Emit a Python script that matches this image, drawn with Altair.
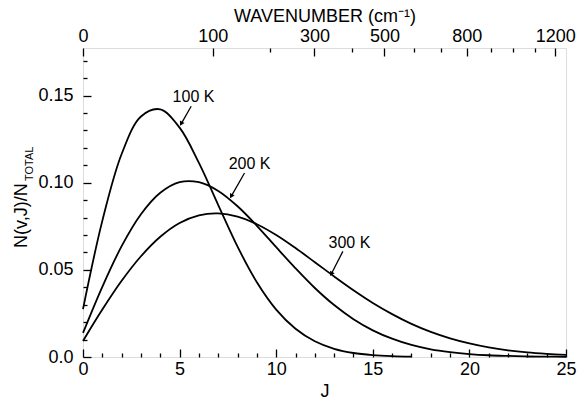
import json
import math
import altair as alt
import pandas as pd

# ---- data ----
J_VALUES = list(range(0, 26))
POP_100K = [0.0275, 0.0781, 0.1165, 0.1380, 0.1421, 0.1316, 0.1114, 0.0872, 0.0633,
            0.0429, 0.0272, 0.0162, 0.0090, 0.0047, 0.0023, 0.0011, 0.0005, 0.0002]
POP_200K = [0.0138, 0.0403, 0.0636, 0.0819, 0.0942, 0.1003, 0.1003, 0.0953, 0.0865,
            0.0753, 0.0630, 0.0509, 0.0396, 0.0298, 0.0217, 0.0153, 0.0105, 0.0069,
            0.0044, 0.0028, 0.0017, 0.0010, 0.0006, 0.0003, 0.0002, 0.0001]
POP_300K = [0.0092, 0.0272, 0.0437, 0.0578, 0.0690, 0.0769, 0.0813, 0.0824, 0.0806,
            0.0762, 0.0700, 0.0625, 0.0544, 0.0462, 0.0383, 0.0310, 0.0246, 0.0190,
            0.0144, 0.0107, 0.0078, 0.0055, 0.0038, 0.0026, 0.0018, 0.0012]

SERIES = ["100 K", "200 K", "300 K"]
LABEL_J = [5.72, 8.62, 13.79]
LABEL_V = [0.1493, 0.1110, 0.0654]
ARROW_J1 = [5.60, 8.36, 13.45]
ARROW_V1 = [0.1439, 0.1056, 0.0606]
ARROW_J2 = [5.08, 7.67, 12.85]
ARROW_V2 = [0.1338, 0.0922, 0.0476]

WAVENUMBER_TICKS = [0, 100, 200, 300, 400, 500, 600, 700, 800, 900, 1000, 1100, 1200]
WAVENUMBER_LABELS = [0, 100, 300, 500, 800, 1200]
B_ROT = 1.93  # cm^-1, rotational constant used for the top scale

X_TICKS = list(range(0, 26))
Y_TICKS = [round(i * 0.01, 2) for i in range(0, 18)]

# ---- tables ----
rows = []
for name, vals in zip(SERIES, [POP_100K, POP_200K, POP_300K]):
    for j, v in zip(J_VALUES, vals):
        rows.append({"J": j, "v": v, "T": name})
curves = pd.DataFrame(rows)

labels = pd.DataFrame({"T": SERIES, "J": LABEL_J, "v": LABEL_V})
arrows = pd.DataFrame({"T": SERIES, "J": ARROW_J1, "v": ARROW_V1,
                       "J2": ARROW_J2, "v2": ARROW_V2})

top_tick_J = [(-1 + math.sqrt(1 + 4 * w / B_ROT)) / 2 for w in WAVENUMBER_TICKS]

FONT = "Liberation Sans"
xs = alt.Scale(domain=[0, 25], nice=False, zero=False)
ys = alt.Scale(domain=[0, 0.1773], nice=False)

wn_expr = f"round({B_ROT}*datum.value*(datum.value+1))"
is_wn_label = f"indexof({json.dumps(WAVENUMBER_LABELS)}, {wn_expr}) >= 0"

bottom_axis = alt.Axis(
    orient="bottom", values=X_TICKS, domain=False, grid=False,
    tickColor="black", tickWidth=1.3, labelFlush=False,
    tickSize={"condition": {"test": "datum.value % 5 === 0", "value": -8}, "value": -4},
    labelExpr="datum.value % 5 === 0 ? datum.label : ''",
    labelPadding=11, labelFontSize=18, labelColor="black", labelFont=FONT,
    title="J", titleFontSize=18, titleFontWeight="normal", titleColor="black",
    titleFont=FONT, titlePadding=4,
)
left_axis = alt.Axis(
    orient="left", values=Y_TICKS, domain=False, grid=False,
    tickColor="black", tickWidth=1.3,
    tickSize={"condition": {"test": "round(datum.value*100) % 5 === 0", "value": -8}, "value": -4},
    labelExpr="round(datum.value*100) % 5 === 0 ? (datum.value === 0 ? '0.0' : format(datum.value, '.2f')) : ''",
    labelPadding=18, labelFontSize=18, labelColor="black", labelFont=FONT,
    title=None,
)
top_axis = alt.Axis(
    orient="top", values=top_tick_J, domain=False, grid=False,
    tickColor="black", tickWidth=1.3, labelFlush=False,
    tickSize={"condition": {"test": is_wn_label, "value": -8}, "value": -4},
    labelExpr=f"{is_wn_label} ? '' + {wn_expr} : ''",
    labelPadding=11, labelFontSize=18, labelColor="black", labelFont=FONT,
    title="WAVENUMBER (cm\u207b\u00b9)", titleFontSize=18, titleFontWeight="normal",
    titleColor="black", titleFont=FONT, titlePadding=2,
)

lines = alt.Chart(curves).mark_line(color="black", strokeWidth=1.8, interpolate="catmull-rom").encode(
    x=alt.X("J:Q", scale=xs, axis=bottom_axis),
    y=alt.Y("v:Q", scale=ys, axis=left_axis),
    detail="T:N",
)
top_layer = alt.Chart(curves).mark_line(opacity=0).encode(
    x=alt.X("J:Q", scale=xs, axis=top_axis),
    y=alt.Y("v:Q", scale=ys, axis=None),
    detail="T:N",
)
text = alt.Chart(labels).mark_text(fontSize=16, font=FONT, color="black",
                                   align="center", baseline="middle").encode(
    x=alt.X("J:Q", scale=xs, axis=None),
    y=alt.Y("v:Q", scale=ys, axis=None),
    text="T:N",
)
arrow_lines = alt.Chart(arrows).mark_rule(color="black", strokeWidth=1.3).encode(
    x=alt.X("J:Q", scale=xs, axis=None),
    y=alt.Y("v:Q", scale=ys, axis=None),
    x2="J2:Q", y2="v2:Q",
)
arrow_heads = alt.Chart(arrows).mark_point(shape="triangle-up", filled=True, color="black",
                                           size=28, angle=209, opacity=1).encode(
    x=alt.X("J2:Q", scale=xs, axis=None),
    y=alt.Y("v2:Q", scale=ys, axis=None),
)
ytitle_main = alt.Chart(pd.DataFrame({"t": ["N(v,J)/N"]})).mark_text(
    angle=270, align="left", baseline="alphabetic", fontSize=18, font=FONT, color="black"
).encode(x=alt.value(-56), y=alt.value(200), text="t:N")
ytitle_sub = alt.Chart(pd.DataFrame({"t": ["TOTAL"]})).mark_text(
    angle=270, align="left", baseline="alphabetic", fontSize=11, font=FONT, color="black"
).encode(x=alt.value(-50), y=alt.value(133), text="t:N")

chart = alt.layer(
    lines, top_layer, text, arrow_lines, arrow_heads, ytitle_main, ytitle_sub
).resolve_axis(x="independent", y="independent").properties(
    width=483, height=309,
    autosize=alt.AutoSizeParams(type="none"),
    padding={"left": 83, "top": 48, "right": 11, "bottom": 44},
).configure_view(stroke="black", strokeWidth=1.5).configure(background="white")

chart.save("out.html", embed_options={"renderer": "svg", "actions": False})
